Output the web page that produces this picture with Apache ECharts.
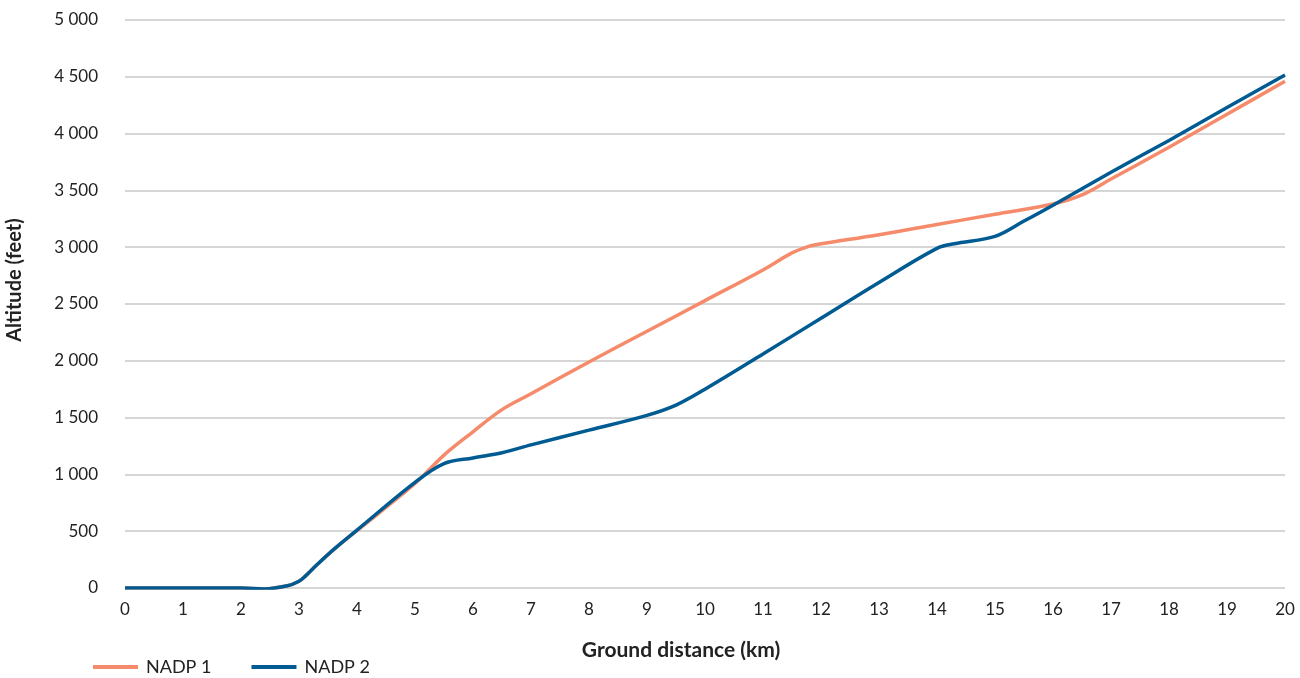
<!DOCTYPE html>
<html>
<head>
<meta charset="utf-8">
<script src="https://cdn.jsdelivr.net/npm/echarts@6/dist/echarts.min.js"></script>
<style>html,body{margin:0;padding:0;background:#fff}#c{width:1300px;height:678px}</style>
</head>
<body>
<div id="c"></div>
<script>
const xTicks = [0,1,2,3,4,5,6,7,8,9,10,11,12,13,14,15,16,17,18,19,20];
const nadp1 = [[0,0],[1,0],[2,0],[2.4,-8],[2.8,20],[3,60],[3.1,100],[3.3,200],[3.6,340],[4,505],[5,920],[5.5,1170],[6,1375],[6.5,1570],[7,1710],[8,1990],[9,2260],[10,2530],[11,2800],[11.5,2950],[11.8,3010],[12,3030],[13,3110],[14,3200],[15,3290],[16,3380],[16.5,3460],[17,3600],[18,3880],[19,4170],[20,4460]];
const nadp2 = [[0,0],[1,0],[2,0],[2.4,-8],[2.8,20],[3,60],[3.1,100],[3.3,200],[3.6,340],[4,510],[5,930],[5.5,1095],[6,1145],[6.5,1190],[7,1260],[8,1390],[9,1520],[9.5,1610],[10,1750],[11,2060],[12,2375],[13,2690],[14,2990],[14.3,3030],[15,3095],[15.5,3230],[16,3370],[17,3660],[18,3940],[19,4230],[20,4515]];

const FONT = "Lato, sans-serif";
const chart = echarts.init(document.getElementById('c'));
const fmt = v => String(v).replace(/\B(?=(\d{3})+(?!\d))/g, ' ');
chart.setOption({
  animation: false,
  textStyle: {fontFamily: FONT, color: '#222'},
  grid: {left: 125, right: 15, top: 20, bottom: 90, outerBoundsMode: 'none'},
  legend: {
    left: 88, top: 653, itemWidth: 45, itemHeight: 4, itemGap: 40,
    icon: 'rect',
    textStyle: {fontSize: 18, color: '#222', fontFamily: FONT, padding: [0, 0, 0, 3]},
    data: ['NADP 1', 'NADP 2']
  },
  graphic: [
    {type: 'text', x: 681, y: 650, style: {text: 'Ground distance (km)', font: "bold 21px Lato, sans-serif", fill: '#222', align: 'center', verticalAlign: 'middle'}},
    {type: 'text', x: 15, y: 280, rotation: Math.PI / 2, style: {text: 'Altitude (feet)', font: "bold 20px Lato, sans-serif", fill: '#222', align: 'center', verticalAlign: 'middle'}}
  ],
  xAxis: {
    type: 'value', min: 0, max: 20, interval: 1,
    axisLine: {show: false}, axisTick: {show: false},
    splitLine: {show: false},
    axisLabel: {fontSize: 17, color: '#222', margin: 13}
  },
  yAxis: {
    type: 'value', min: 0, max: 5000, interval: 500,
    axisLine: {show: false}, axisTick: {show: false},
    splitLine: {lineStyle: {color: '#c8c8c8', width: 1.5}},
    axisLabel: {fontSize: 17, color: '#222', margin: 27, formatter: fmt}
  },
  series: [
    {name: 'NADP 1', type: 'line', data: nadp1, smooth: 0.35, showSymbol: false,
     lineStyle: {color: '#F68B6B', width: 3.5}, itemStyle: {color: '#F68B6B'}},
    {name: 'NADP 2', type: 'line', data: nadp2, smooth: 0.35, showSymbol: false,
     lineStyle: {color: '#005B92', width: 3.5}, itemStyle: {color: '#005B92'}}
  ]
});
</script>
</body>
</html>
